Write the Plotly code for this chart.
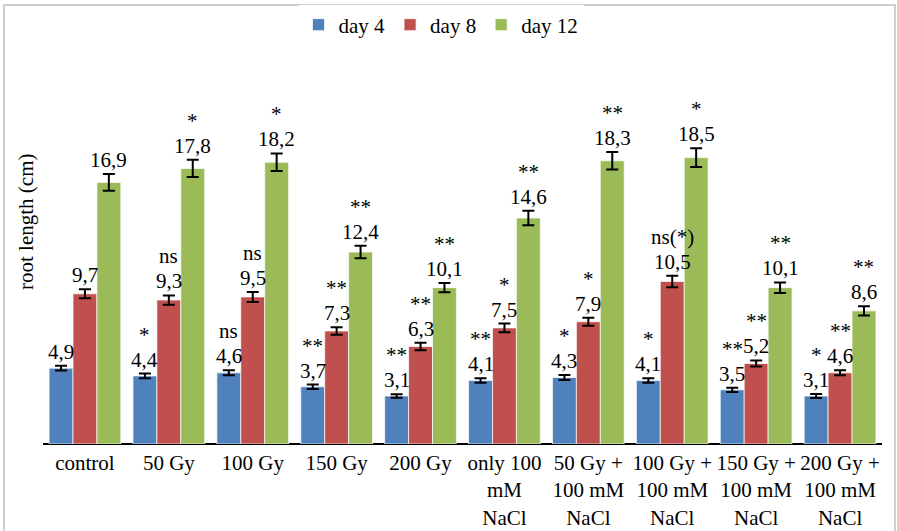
import plotly.graph_objects as go

# Treatments (x axis) and root length (cm) on each measurement day
categories = ["control", "50 Gy", "100 Gy", "150 Gy", "200 Gy",
              "only 100<br>mM<br>NaCl", "50 Gy +<br>100 mM<br>NaCl",
              "100 Gy +<br>100 mM<br>NaCl", "150 Gy +<br>100 mM<br>NaCl",
              "200 Gy +<br>100 mM<br>NaCl"]
series_names = ["day 4", "day 8", "day 12"]

day4 = [4.9, 4.4, 4.6, 3.7, 3.1, 4.1, 4.3, 4.1, 3.5, 3.1]
day8 = [9.7, 9.3, 9.5, 7.3, 6.3, 7.5, 7.9, 10.5, 5.2, 4.6]
day12 = [16.9, 17.8, 18.2, 12.4, 10.1, 14.6, 18.3, 18.5, 10.1, 8.6]

# Standard errors
err4 = [0.16, 0.15, 0.16, 0.14, 0.12, 0.15, 0.16, 0.15, 0.14, 0.13]
err8 = [0.29, 0.30, 0.32, 0.25, 0.24, 0.28, 0.26, 0.37, 0.20, 0.16]
err12 = [0.54, 0.56, 0.57, 0.40, 0.30, 0.47, 0.57, 0.61, 0.34, 0.30]

# Significance versus control
sig4 = ["", "*", "ns", "**", "**", "**", "*", "*", "**", "*"]
sig8 = ["", "ns", "ns", "**", "**", "*", "*", "ns(*)", "**", "**"]
sig12 = ["", "*", "*", "**", "**", "**", "**", "*", "**", "**"]

colors = ["#4F81BD", "#C0504D", "#9BBB59"]
FONT = "Liberation Serif"
FS = 21

values = [day4, day8, day12]
errors = [err4, err8, err12]
sigs = [sig4, sig8, sig12]

W, H = 897, 531
ML, MR, MT, MB = 43, 15, 57, 87
BARGAP = 0.145
YMAX = 25

fig = go.Figure()
xs = list(range(len(categories)))
for name, vals, errs, col in zip(series_names, values, errors, colors):
    fig.add_trace(go.Bar(
        x=xs, y=vals, name=name,
        marker=dict(color=col, line=dict(color="rgba(255,255,255,0.7)", width=1)),
        error_y=dict(type="data", array=errs, color="black", thickness=2, width=6),
    ))

# Value and significance labels above each bar
bw = (1 - BARGAP) / 3
for j, (vals, errs, sg) in enumerate(zip(values, errors, sigs)):
    for i, (v, e, s) in enumerate(zip(vals, errs, sg)):
        xpos = i + (j - 1) * bw
        fig.add_annotation(
            x=xpos, y=v + e, xref="x", yref="y", text=f"{v:.1f}".replace(".", ","),
            showarrow=False, yanchor="bottom", xanchor="center", yshift=0,
            font=dict(family=FONT, size=FS, color="black"))
        if s:
            fig.add_annotation(
                x=xpos, y=v + e, xref="x", yref="y", text=s,
                showarrow=False, yanchor="bottom", xanchor="center", yshift=25,
                font=dict(family=FONT, size=FS, color="black"))

pw, ph = W - ML - MR, H - MT - MB

# Axis title placed as rotated text
fig.add_annotation(
    x=(26 - ML) / pw, y=(H - MB - 222) / ph, xref="paper", yref="paper",
    text="root length (cm)", textangle=-90, showarrow=False,
    xanchor="center", yanchor="middle",
    font=dict(family=FONT, size=FS, color="black"))

# Outer frame around the chart
fig.add_shape(type="rect", xref="paper", yref="paper",
              x0=(4 - ML) / pw, x1=(895 - ML) / pw,
              y0=(H - MB - 540) / ph, y1=(H - MB - 5) / ph,
              line=dict(color="#BFBFBF", width=1.5), fillcolor="rgba(0,0,0,0)",
              layer="below")

fig.update_layout(
    width=W, height=H,
    margin=dict(l=ML, r=MR, t=MT, b=MB, autoexpand=False),
    paper_bgcolor="white", plot_bgcolor="white",
    barmode="group", bargap=BARGAP, bargroupgap=0,
    font=dict(family=FONT, size=FS, color="black"),
    legend=dict(orientation="h", x=(441 - ML) / pw, xanchor="center",
                y=(H - MB - 25) / ph, yanchor="middle",
                font=dict(family=FONT, size=FS, color="black"), traceorder="normal"),
    xaxis=dict(tickmode="array", tickvals=xs, ticktext=categories,
               range=[-0.5, len(categories) - 0.5], showgrid=False,
               showline=False, ticks="", zeroline=False, automargin=False,
               ticklabelstandoff=4,
               tickfont=dict(family=FONT, size=FS, color="black")),
    yaxis=dict(range=[0, YMAX], showgrid=False, showticklabels=False,
               zeroline=True, zerolinecolor="black", zerolinewidth=2,
               showline=False, ticks="", automargin=False),
)

fig.write_html("out.html")
